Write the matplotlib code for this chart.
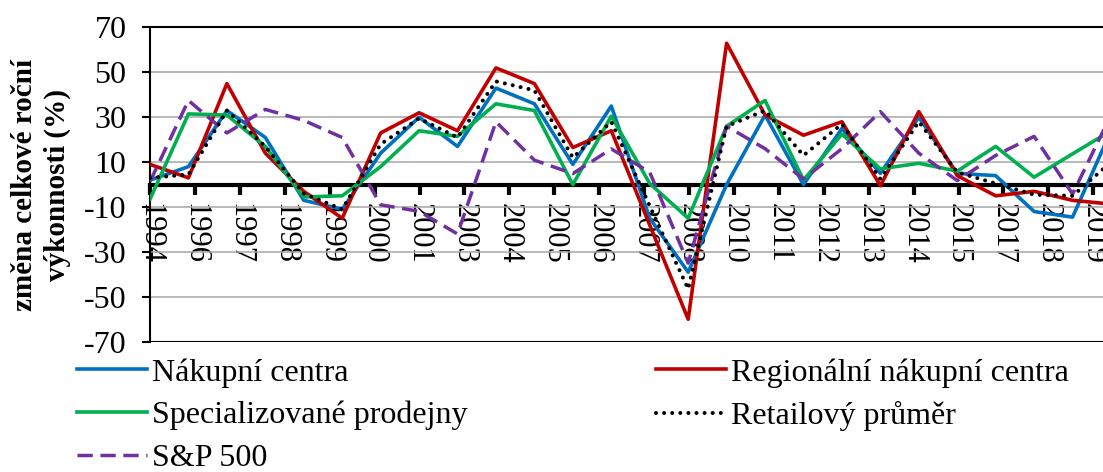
import numpy as np
import matplotlib
matplotlib.use("Agg")
import matplotlib.pyplot as plt

plt.rcParams['font.family'] = ['Liberation Serif', 'DejaVu Serif']
plt.rcParams['axes.unicode_minus'] = False

years = list(range(1994, 2020))
tick_labels = ["1994", "1996", "1997", "1998", "1999", "2000", "2001", "2003",
               "2004", "2005", "2006", "2007", "2008", "2010", "2011", "2012",
               "2013", "2014", "2015", "2017", "2018", "2019"]

nakupni = [2, 8, 33, 21, -7, -11, 14, 30, 17, 43, 36, 9, 35, -15, -39, 0,
           31, 0, 25, 5, 30, 5, 4, -12, -14.5, 24]
regionalni = [9, 3, 45, 14, -3, -15, 23, 32, 24, 52, 45, 16.5, 24, -18, -60, 63,
              31, 22, 28, -0.5, 32.5, 4, -5, -3, -7, -8.7]
specializovane = [-6.5, 31.5, 31, 17, -5.5, -5, 8, 24, 21.5, 36, 33, 0, 30.5, 0.5,
                  -15, 26, 37.5, 2, 22.5, 7, 9.5, 6, 17, 3.3, 13.7, 24]
retail = [3, 4.5, 33, 17, -4, -11, 18, 29.5, 21, 46, 42, 12, 28, -9.5, -46.5, 26,
          33, 13, 27, 2.5, 28, 5.5, 0.5, -4.5, -5, 10]
sp500 = [1.3, 37.5, 23, 33.5, 28.6, 21, -9, -11.9, -22, 28, 10.9, 4.9, 15.9, 5.5,
         -35, 26, 16, 2.5, 16, 32.5, 14, 1.8, 13, 21.5, -4.2, 31]

W, H = 1103, 472
fig = plt.figure(figsize=(W / 100, H / 100), dpi=100)
ax = fig.add_axes([150 / W, 1 - 341.7 / H, (1111 - 150) / W, (341.7 - 27.5) / H])

x = np.arange(len(years))
lw = 2.6
l_blue, = ax.plot(x, nakupni, color='#0070C0', lw=lw, zorder=3)
l_red, = ax.plot(x, regionalni, color='#C00000', lw=lw, zorder=3)
l_green, = ax.plot(x, specializovane, color='#00B050', lw=lw, zorder=3)
l_black, = ax.plot(x, retail, color='black', lw=2.9, zorder=4,
                   linestyle=(0, (0.01, 2.0)), dash_capstyle='round')
l_purple, = ax.plot(x, sp500, color='#7030A0', lw=2.5, zorder=3,
                    linestyle=(0, (4.4, 2.2)))

ax.set_xlim(0, 25)
ax.set_ylim(-70, 70)
ax.set_yticks(np.arange(-70, 71, 20))
ax.yaxis.grid(True, color='#A6A6A6', lw=1.1)
ax.set_axisbelow(True)

for s in ['top', 'left']:
    ax.spines[s].set_color('black')
    ax.spines[s].set_linewidth(1.5)
ax.spines['right'].set_visible(False)
ax.spines['bottom'].set_position(('data', 0))
ax.spines['bottom'].set_linewidth(3)
ax.spines['bottom'].set_color('black')
ax.axhline(-70, color='black', lw=1.5, zorder=2.6)

tick_pos = np.linspace(0, 24.54, len(tick_labels))
ax.set_xticks(tick_pos)
ax.set_xticklabels(tick_labels, rotation=-90, fontsize=22)
ax.tick_params(axis='x', direction='out', length=7, width=3, pad=6)
ax.tick_params(axis='y', direction='out', length=6, width=1.5, pad=11, labelsize=23)

fig.text(41 / W, 1 - 185 / H, "změna celkové roční\nvýkonnosti (%)", rotation=90,
         ha='center', va='center', fontsize=21, fontweight='bold', linespacing=1.3,
         multialignment='center')

handles = [l_blue, l_green, l_purple, l_red, l_black]
labels = ["Nákupní centra", "Specializované prodejny", "S&P 500",
          "Regionální nákupní centra", "Retailový průměr"]
fig.legend(handles, labels, loc='upper left', bbox_to_anchor=(77 / W, 1 - 358 / H),
           ncol=2, frameon=False, fontsize=23, handlelength=2.2, handletextpad=0.15,
           columnspacing=5.9, labelspacing=0.42, borderpad=0, borderaxespad=0)

fig.savefig("out.png", dpi=100)
